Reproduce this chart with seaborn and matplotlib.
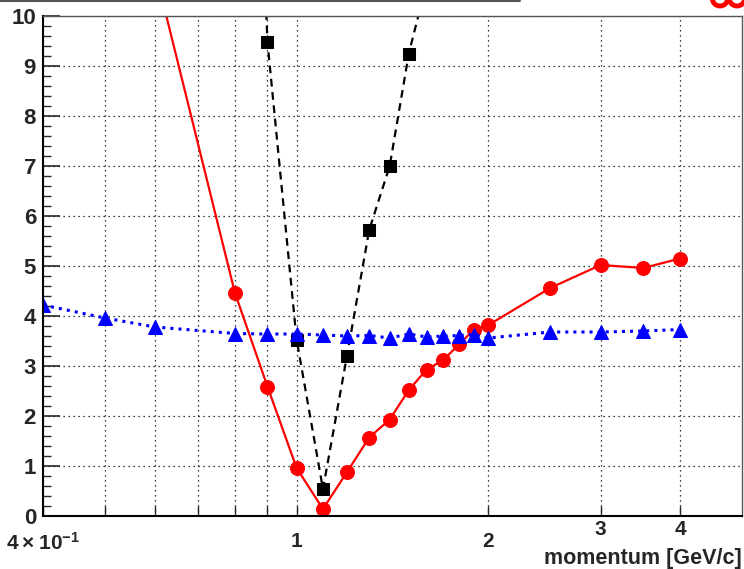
import numpy as np
import pandas as pd
import matplotlib
matplotlib.use("Agg")
import matplotlib.pyplot as plt
import matplotlib.transforms as mtransforms
from matplotlib.lines import Line2D
from matplotlib.patches import Arc
from matplotlib.ticker import FixedLocator, NullFormatter, MultipleLocator
import seaborn as sns

# =========================
# DATA
# =========================
p_red = [0.6, 0.8, 0.9, 1.0, 1.1, 1.2, 1.3, 1.4, 1.5, 1.6, 1.7, 1.8, 1.9, 2.0, 2.5, 3.0, 3.5, 4.0]
v_red = [10.9, 4.47, 2.59, 0.96, 0.14, 0.88, 1.57, 1.93, 2.52, 2.93, 3.12, 3.44, 3.73, 3.82, 4.56, 5.02, 4.96, 5.15]

p_black = [0.8, 0.9, 1.0, 1.1, 1.2, 1.3, 1.4, 1.5, 1.6]
v_black = [26.0, 9.49, 3.53, 0.54, 3.21, 5.72, 7.0, 9.25, 10.66]

p_blue = [0.4, 0.5, 0.6, 0.8, 0.9, 1.0, 1.1, 1.2, 1.3, 1.4, 1.5, 1.6, 1.7, 1.8, 1.9, 2.0, 2.5, 3.0, 3.5, 4.0]
v_blue = [4.22, 3.96, 3.78, 3.65, 3.64, 3.64, 3.62, 3.60, 3.61, 3.56, 3.64, 3.58, 3.60, 3.61, 3.63, 3.56, 3.68, 3.68, 3.70, 3.73]

x_major = [0.4, 1, 2, 3, 4]
x_labels = [r"$\mathbf{4\times10^{-1}}$", "1", "2", "3", "4"]
x_minor = [0.5, 0.6, 0.7, 0.8, 0.9]

# =========================
# STYLE
# =========================
sns.set_style("ticks")
plt.rcParams["font.family"] = ["Liberation Sans", "DejaVu Sans"]
plt.rcParams["font.weight"] = "bold"
plt.rcParams["mathtext.fontset"] = "custom"
plt.rcParams["mathtext.rm"] = "Liberation Sans"
plt.rcParams["mathtext.bf"] = "Liberation Sans:bold"

fig = plt.figure(figsize=(7.44, 5.69), dpi=100)
ax = fig.add_axes([43 / 744, 53 / 569, 699 / 744, 500 / 569])

# =========================
# PLOT
# =========================
sns.lineplot(x=p_red, y=v_red, ax=ax, color="red", linestyle="-", linewidth=1.6,
             marker="o", markersize=10, markeredgecolor="red", sort=False)
sns.lineplot(x=p_black, y=v_black, ax=ax, color="black", linestyle="--", linewidth=1.6,
             marker="s", markersize=9, markeredgecolor="black", sort=False)
ax.lines[-1].set_dashes([3.5, 2.5])
sns.lineplot(x=p_blue, y=v_blue, ax=ax, color="blue", linestyle=":", linewidth=2.2,
             marker="^", markersize=10, markeredgecolor="blue", sort=False)

ax.set_xscale("log")
ax.set_xlim(0.4, 5.0)
ax.set_ylim(0, 10)

ax.xaxis.set_major_locator(FixedLocator(x_major))
ax.xaxis.set_minor_locator(FixedLocator(x_minor))
ax.set_xticklabels(x_labels)
ax.xaxis.set_minor_formatter(NullFormatter())
ax.yaxis.set_major_locator(MultipleLocator(1))
ax.yaxis.set_minor_locator(MultipleLocator(0.2))

ax.grid(True, which="major", axis="both", color="black", linestyle=(0, (1, 3)), linewidth=0.9)
ax.grid(True, which="minor", axis="x", color="black", linestyle=(0, (1, 3)), linewidth=0.9)

ax.tick_params(axis="y", which="major", direction="in", length=12, width=1.2,
               labelsize=16, pad=5)
ax.tick_params(axis="y", which="minor", direction="in", length=6, width=1.0)
ax.tick_params(axis="x", which="both", direction="in", length=7, width=1.0,
               labelsize=15, pad=3)

for lab in ax.get_xticklabels() + ax.get_yticklabels():
    lab.set_fontweight("bold")

# the first three x labels sit a little lower, clear of the "0"
shift = mtransforms.ScaledTranslation(0, -12 / 100, fig.dpi_scale_trans)
for lab in ax.get_xticklabels()[:3]:
    lab.set_transform(lab.get_transform() + shift)

for side in ["left", "bottom"]:
    ax.spines[side].set_linewidth(1.5)
    ax.spines[side].set_color("black")
for side in ["top", "right"]:
    ax.spines[side].set_linewidth(1.0)
    ax.spines[side].set_color("#555555")

ax.set_xlabel("")
ax.set_ylabel("")
fig.text(742 / 744, 1 - 564 / 569, "momentum [GeV/c]", ha="right", va="baseline",
         fontsize=15.5, fontweight="bold")

# top decorations (edge of a clipped title box and clipped red lettering)
fig.add_artist(Line2D([0, 520 / 744], [1 - 1 / 569, 1 - 1 / 569],
                      color="#555555", linewidth=1.5, transform=fig.transFigure))
for cx in [720, 737]:
    fig.add_artist(Arc((cx / 744, 1 + 1 / 569), 15 / 744, 14 / 569, theta1=180, theta2=360,
                       color="red", linewidth=3.5, transform=fig.transFigure))

plt.savefig("out.png", dpi=100)
